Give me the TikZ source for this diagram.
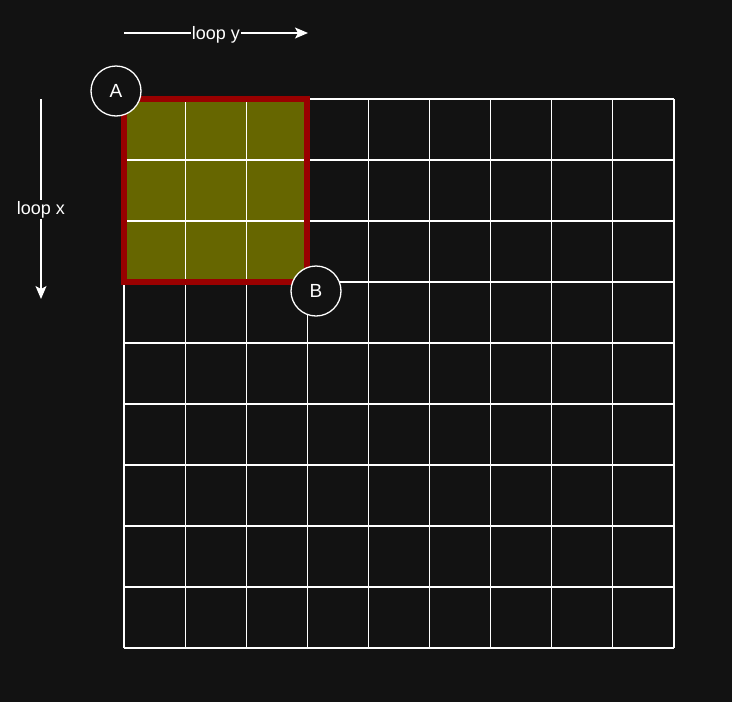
\documentclass[tikz,border=0pt]{standalone}
\usepackage{fontspec}
\setmainfont{Liberation Sans}
\usetikzlibrary{arrows.meta}
\definecolor{bg}{HTML}{121212}
\definecolor{olivefill}{HTML}{666600}
\definecolor{redline}{HTML}{990000}
\begin{document}
\begin{tikzpicture}[x=1pt,y=-1pt,
  gridline/.style={draw=white,line width=1.2pt},
  marker/.style={circle,draw=white,line width=1.3pt,fill=bg,minimum size=50pt,inner sep=0pt,text=white,font=\fontsize{19}{22}\selectfont},
  looparrow/.style={draw=white,line width=1.3pt,-{Stealth[length=13pt,width=11pt,inset=3pt]}},
  looplabel/.style={fill=bg,text=white,inner sep=1pt,font=\fontsize{18}{21}\selectfont}]
\fill[bg] (0,0) rectangle (732,702);
\useasboundingbox (0,0) rectangle (732,702);
% highlighted block
\fill[olivefill] (124,99) rectangle (307.33,282.33);
% grid
\foreach \i in {0,...,9}{
  \draw[gridline] ({124+\i*61.11},99) -- ({124+\i*61.11},648);
  \draw[gridline] (124,{99+\i*61}) -- (674,{99+\i*61});
}
\draw[redline,line width=6pt] (124,99) rectangle (307.33,282.33);
% markers
\node[marker] (A) at (116,91) {A};
\node[marker] (B) at (316,291) {B};
% loop arrows
\coordinate (ys) at (124,33);
\coordinate (ye) at (308,33);
\draw[looparrow] (ys) -- node[looplabel,yshift=-1.5pt] (ly) {loop y} (ye);
\coordinate (xs) at (41,99);
\coordinate (xe) at (41,299);
\draw[looparrow] (xs) -- node[looplabel,pos=0.545,yshift=-1.5pt] (lx) {loop x} (xe);
\end{tikzpicture}
\end{document}
